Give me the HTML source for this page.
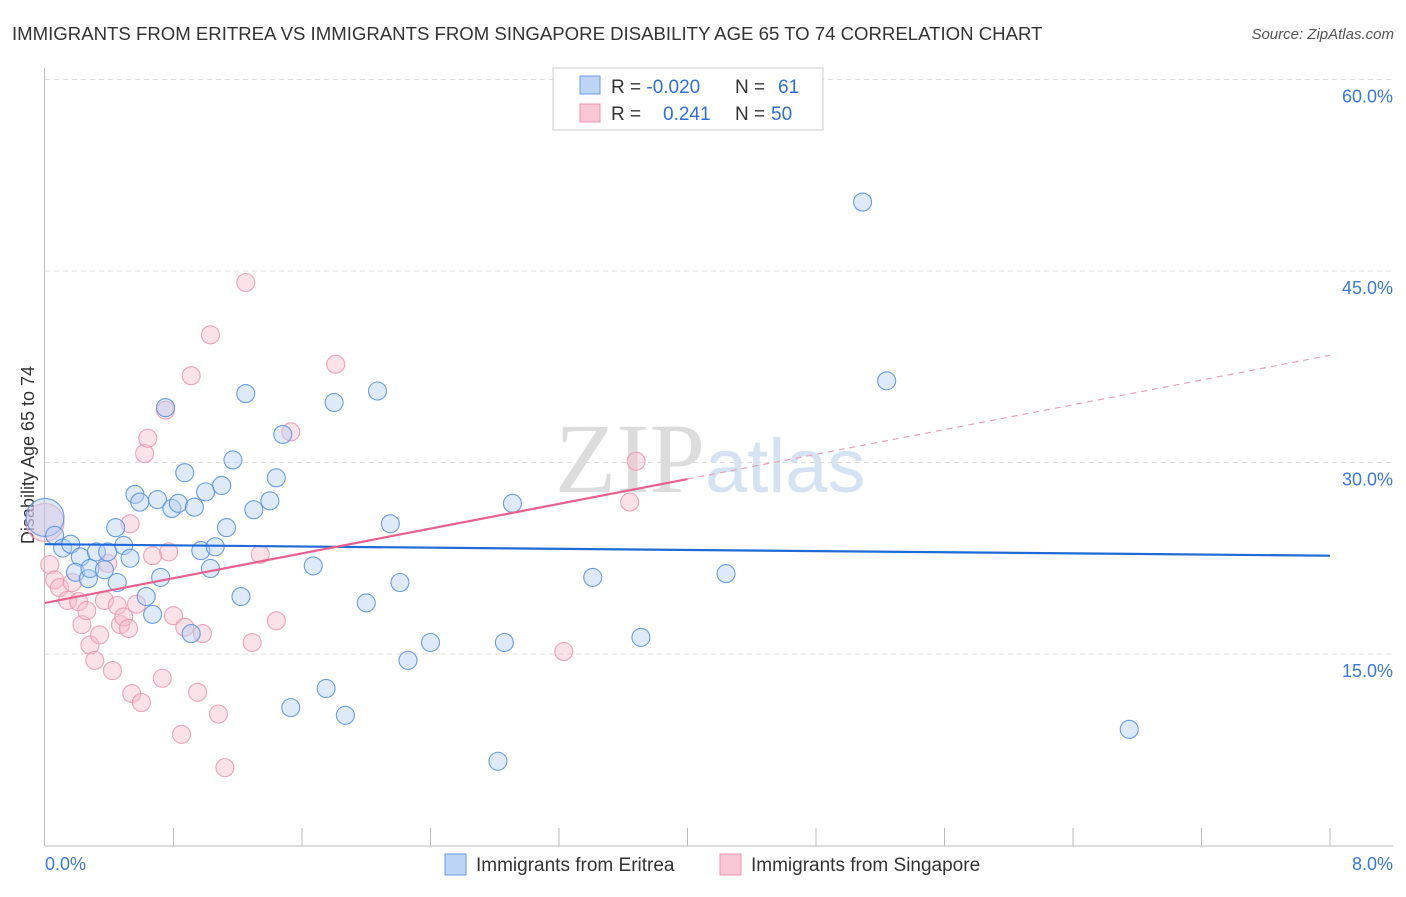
<!DOCTYPE html>
<html><head><meta charset="utf-8"><style>
body{margin:0;background:#fff;font-family:"Liberation Sans",sans-serif;}
svg text{font-family:"Liberation Sans",sans-serif;}
</style></head><body>
<svg id="chart" width="1406" height="892">
<text x="12" y="40" font-size="18.6" fill="#333">IMMIGRANTS FROM ERITREA VS IMMIGRANTS FROM SINGAPORE DISABILITY AGE 65 TO 74 CORRELATION CHART</text>
<text x="1394" y="39" font-size="15" fill="#555" font-style="italic" text-anchor="end">Source: ZipAtlas.com</text>
<text x="555" y="492" font-size="100" fill="#e4e4e4" font-family="Liberation Serif"><tspan font-family="Liberation Serif" fill="#dcdcdc">ZIP</tspan><tspan font-family="Liberation Sans" font-size="76" fill="#d4e2f2">atlas</tspan></text>
<text transform="translate(34,455) rotate(-90)" font-size="18" fill="#333" text-anchor="middle">Disability Age 65 to 74</text>
<g id="grid"></g><g id="pts"></g><g id="lines"></g>
<g>
<rect x="553" y="68" width="270" height="62" fill="#fff" stroke="#ccc"/>
<rect x="580" y="76" width="20" height="18" fill="#bcd4f5" stroke="#6a9be0"/>
<rect x="580" y="104" width="20" height="18" fill="#f9c6d6" stroke="#ec94b0"/>
<text x="611" y="93" font-size="19" fill="#333">R = <tspan fill="#2f6fd6">-0.020</tspan><tspan x="735">N = </tspan><tspan x="778" fill="#2f6fd6">61</tspan></text>
<text x="611" y="120" font-size="19" fill="#333">R = <tspan x="663" fill="#2f6fd6">0.241</tspan><tspan x="735">N = </tspan><tspan x="771" fill="#2f6fd6">50</tspan></text>
</g>
<g>
<rect x="445" y="854" width="21" height="21" fill="#bcd4f5" stroke="#6a9be0"/>
<text x="476" y="871" font-size="19" fill="#333">Immigrants from Eritrea</text>
<rect x="720" y="854" width="21" height="21" fill="#f9c6d6" stroke="#ec94b0"/>
<text x="751" y="871" font-size="19" fill="#333">Immigrants from Singapore</text>
</g>
<text x="45" y="870" font-size="18" fill="#3b78d8">0.0%</text>
<text x="1393" y="870" font-size="18" fill="#3b78d8" text-anchor="end">8.0%</text>
</svg>
<script>
const yTicks=[15,30,45,60];
const yTickLabels=["15.0%","30.0%","45.0%","60.0%"];
const xTicks=[0.8,1.6,2.4,3.2,4.0,4.8,5.6,6.4,7.2,8.0];
const eritreaX=[0.00,0.06,0.11,0.16,0.22,0.19,0.27,0.28,0.32,0.37,0.39,0.44,0.45,0.49,0.53,0.56,0.59,0.63,0.67,0.70,0.72,0.75,0.79,0.83,0.87,0.91,0.93,0.97,1.00,1.03,1.06,1.10,1.13,1.17,1.22,1.25,1.30,1.40,1.44,1.48,1.53,1.67,1.75,1.80,1.87,2.00,2.07,2.15,2.21,2.26,2.40,2.82,2.86,2.91,3.41,3.71,4.24,5.09,5.24,6.75];
const eritreaY=[25.7,24.3,23.3,23.6,22.6,21.4,20.9,21.7,23.0,21.6,23.0,24.9,20.6,23.5,22.5,27.5,26.9,19.5,18.1,27.1,21.0,34.3,26.4,26.8,29.2,16.6,26.5,23.1,27.7,21.7,23.4,28.2,24.9,30.2,19.5,35.4,26.3,27.0,28.8,32.2,10.8,21.9,12.3,34.7,10.2,19.0,35.6,25.2,20.6,14.5,15.9,6.6,15.9,26.8,21.0,16.3,21.3,50.4,36.4,9.1];
const singX=[0.00,0.03,0.06,0.09,0.14,0.17,0.21,0.23,0.26,0.28,0.31,0.34,0.37,0.39,0.42,0.45,0.47,0.49,0.52,0.53,0.54,0.57,0.60,0.62,0.64,0.67,0.73,0.75,0.77,0.80,0.85,0.87,0.91,0.95,0.98,1.03,1.08,1.12,1.25,1.29,1.34,1.44,1.53,1.81,3.23,3.64,3.68];
const singY=[25.3,22.0,20.8,20.2,19.2,20.6,19.1,17.3,18.4,15.7,14.5,16.5,19.2,22.1,13.7,18.8,17.3,17.9,17.0,25.2,11.9,18.9,11.2,30.7,31.9,22.7,13.1,34.1,23.0,18.0,8.7,17.1,36.8,12.0,16.6,40.0,10.3,6.1,44.1,15.9,22.8,17.6,32.4,37.7,15.2,26.9,30.1];
const eritreaTrend=[23.6,22.7];
const singTrend=[19.0,38.4];
const X=v=>45+v/8*1285, Y=v=>845.5-v/15*191.5;
const NS="http://www.w3.org/2000/svg";
function mk(t,a,p){const e=document.createElementNS(NS,t);for(const k in a)e.setAttribute(k,a[k]);p.appendChild(e);return e;}
const grid=document.getElementById('grid'),pts=document.getElementById('pts'),lines=document.getElementById('lines');
let ax=mk('line',{x1:44.5,y1:68,x2:44.5,y2:846,stroke:'#bbb'},grid);


let bx=mk('line',{x1:45,y1:846,x2:1393,y2:846,stroke:'#bbb'},grid);


yTicks.forEach((t,i)=>{
 let g=mk('line',{x1:45,x2:1393,y1:Y(t),y2:Y(t),stroke:'#ddd','stroke-dasharray':'5,4'},grid);
 
 
 let l=mk('text',{x:1393,y:Y(t)+23,'font-size':18,fill:'#3b78d8','text-anchor':'end'},grid);l.textContent=yTickLabels[i];
 
 
});
xTicks.forEach(t=>{
 let k=mk('line',{x1:X(t),x2:X(t),y1:828,y2:846,stroke:'#bbb'},grid);
 
 
});
function dots(xs,ys,fill,stroke,name){xs.forEach((x,i)=>{
 const r=(x===0&&i===0)?19:9;
 let c=mk('circle',{cx:X(x),cy:Y(ys[i]),r:r,fill:fill,'fill-opacity':0.45,stroke:stroke,'stroke-opacity':0.85,'stroke-width':1.1},pts);
 
 
});}
dots(singX,singY,'#f7bccd','#ec94b0','singapore-point');
dots(eritreaX,eritreaY,'#b5cff3','#4f8ee0','eritrea-point');
let bl=mk('line',{x1:X(0),y1:Y(eritreaTrend[0]),x2:X(8),y2:Y(eritreaTrend[1]),stroke:'#1f6ad6','stroke-width':2.2},lines);


const sAt=v=>singTrend[0]+(singTrend[1]-singTrend[0])*v/8;
let pl=mk('line',{x1:X(0),y1:Y(sAt(0)),x2:X(4),y2:Y(sAt(4)),stroke:'#e8608e','stroke-width':2.2},lines);


let pd=mk('line',{x1:X(4),y1:Y(sAt(4)),x2:X(8),y2:Y(sAt(8)),stroke:'#e8a0b8','stroke-width':1.2,'stroke-dasharray':'6,5'},lines);


</script>
</body></html>
